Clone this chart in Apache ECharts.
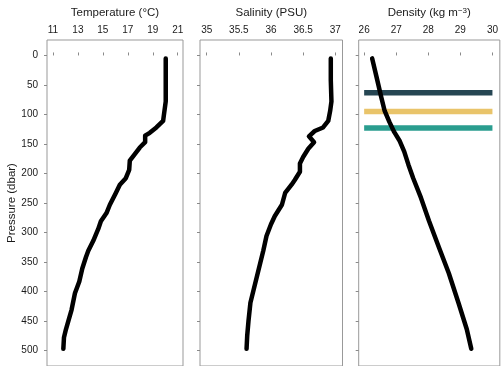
<!DOCTYPE html>
<html>
<head>
<meta charset="utf-8">
<script src="https://cdn.jsdelivr.net/npm/echarts@6/dist/echarts.min.js"></script>
<style>
html,body{margin:0;padding:0;background:#fff;}
#chart{width:501px;height:366px;}
</style>
</head>
<body>
<div id="chart"></div>
<script>
// ---- data ----
const tempPressure = [5, 42, 78, 103, 111, 122, 131, 136, 147, 156, 167, 178, 194, 208, 219, 233, 253, 267, 281, 294, 314, 331, 342, 361, 383, 403, 431, 450, 464, 478, 497];
const temperature  = [20.04, 20.04, 20.04, 19.88, 19.83, 19.29, 18.76, 18.39, 18.39, 17.96, 17.56, 17.16, 17.11, 16.84, 16.36, 16.04, 15.56, 15.29, 14.84, 14.63, 14.23, 13.83, 13.64, 13.35, 13.11, 12.76, 12.49, 12.23, 12.04, 11.88, 11.83];

const salPressure = [5, 42, 78, 94, 111, 122, 128, 137, 147, 158, 172, 183, 197, 211, 219, 233, 253, 272, 286, 306, 331, 353, 375, 397, 419, 450, 475, 497];
const salinity    = [36.93, 36.93, 36.94, 36.92, 36.89, 36.81, 36.68, 36.59, 36.67, 36.58, 36.50, 36.45, 36.45, 36.37, 36.32, 36.22, 36.17, 36.06, 36.00, 35.93, 35.88, 35.83, 35.78, 35.73, 35.68, 35.65, 35.63, 35.62];

const densPressure = [5, 35, 70, 94, 113, 130, 144, 163, 185, 208, 241, 280, 325, 369, 419, 464, 497];
const density      = [26.25, 26.38, 26.53, 26.64, 26.79, 26.94, 27.10, 27.25, 27.38, 27.53, 27.77, 28.02, 28.33, 28.64, 28.94, 29.20, 29.34];

const mldPressure = [63, 95, 123];
const mldRange = [26, 30];

const pressureTicks = [0, 50, 100, 150, 200, 250, 300, 350, 400, 450, 500];
const tempTicks = [11, 13, 15, 17, 19, 21];
const salTicks = [35, 35.5, 36, 36.5, 37];
const densTicks = [26, 27, 28, 29, 30];

// ---- styles ----
const FONT = 'Liberation Sans';
const mldColors = ['#264653', '#e9c46a', '#2a9d8f'];
const gridTop = 40, gridH = 330.6;
const pMin = -26.2, pMax = 526.2;

function xAxisCfg(idx, name, min, max, ticks, rich) {
  return {
    type: 'value', gridIndex: idx, position: 'top', min: min, max: max,
    name: name, nameLocation: 'middle', nameGap: 21,
    nameTextStyle: Object.assign({fontFamily: FONT, fontSize: 11.5, color: '#1a1a1a'}, rich ? {rich: rich} : {}),
    axisLine: {show: false},
    axisTick: {show: true, inside: false, length: 3, lineStyle: {color: '#8a8a8a'}, customValues: ticks},
    axisLabel: {show: true, margin: 5, fontFamily: FONT, fontSize: 10, color: '#1a1a1a', customValues: ticks,
      formatter: v => String(v)},
    splitLine: {show: false}
  };
}
function yAxisCfg(idx, showLabels) {
  const c = {
    type: 'value', gridIndex: idx, inverse: true, min: pMin, max: pMax,
    axisLine: {show: false},
    axisTick: {show: true, length: 3, lineStyle: {color: '#8a8a8a'}, customValues: pressureTicks},
    axisLabel: {show: showLabels, margin: 9, fontFamily: FONT, fontSize: 10, color: '#1a1a1a', customValues: pressureTicks},
    splitLine: {show: false}
  };
  if (showLabels) {
    c.name = 'Pressure (dbar)';
    c.nameLocation = 'middle';
    c.nameGap = 29;
    c.nameRotate = 90;
    c.nameTextStyle = {fontFamily: FONT, fontSize: 11.5, color: '#1a1a1a'};
  }
  return c;
}

const profileLine = {width: 4.5, color: '#000', cap: 'round', join: 'round'};

const series = [
  {type: 'line', xAxisIndex: 0, yAxisIndex: 0, showSymbol: false, silent: true,
   data: temperature.map((t, i) => [t, tempPressure[i]]), lineStyle: profileLine, z: 5},
  {type: 'line', xAxisIndex: 1, yAxisIndex: 1, showSymbol: false, silent: true,
   data: salinity.map((s, i) => [s, salPressure[i]]), lineStyle: profileLine, z: 5}
];
mldPressure.forEach((p, i) => {
  series.push({type: 'line', xAxisIndex: 2, yAxisIndex: 2, showSymbol: false, silent: true,
    data: mldRange.map(x => [x, p]),
    lineStyle: {width: 5.5, color: mldColors[i], cap: 'butt'}, z: 3});
});
series.push({type: 'line', xAxisIndex: 2, yAxisIndex: 2, showSymbol: false, silent: true,
  data: density.map((d, i) => [d, densPressure[i]]), lineStyle: profileLine, z: 5});

const chart = echarts.init(document.getElementById('chart'), null, {renderer: 'canvas'});
chart.setOption({
  animation: false,
  backgroundColor: '#fff',
  grid: [
    {left: 47, top: gridTop, width: 136, height: gridH, show: true, borderColor: '#999', borderWidth: 1, backgroundColor: 'transparent'},
    {left: 200, top: gridTop, width: 142.5, height: gridH, show: true, borderColor: '#999', borderWidth: 1, backgroundColor: 'transparent'},
    {left: 358.7, top: gridTop, width: 143, height: gridH, show: true, borderColor: '#999', borderWidth: 1, backgroundColor: 'transparent'}
  ],
  xAxis: [
    xAxisCfg(0, 'Temperature (°C)', 10.52, 21.425, tempTicks),
    xAxisCfg(1, 'Salinity (PSU)', 34.896, 37.112, salTicks),
    xAxisCfg(2, 'Density (kg m{sup|−3})', 25.83, 30.23, densTicks,
      {sup: {fontFamily: FONT, fontSize: 8, color: '#1a1a1a', verticalAlign: 'top', lineHeight: 8}})
  ],
  yAxis: [yAxisCfg(0, true), yAxisCfg(1, false), yAxisCfg(2, false)],
  series: series
});
</script>
</body>
</html>
